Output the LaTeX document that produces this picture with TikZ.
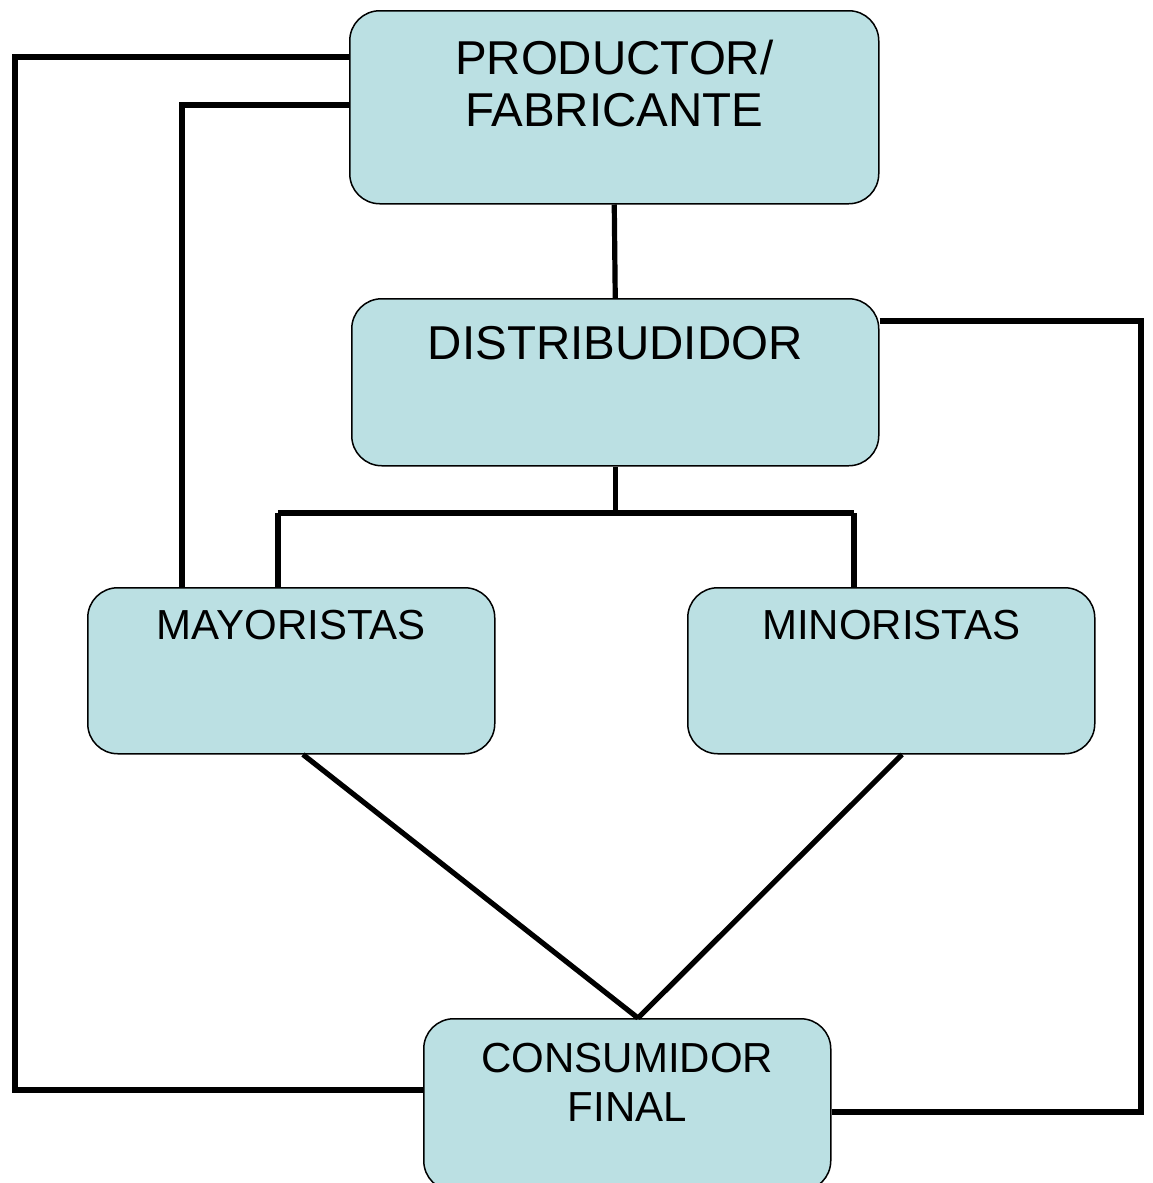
\documentclass[tikz,border=0pt]{standalone}
\usepackage{fontspec}
\setmainfont{Liberation Sans}
\usepackage{tikz}
\usetikzlibrary{positioning}
\definecolor{boxblue}{RGB}{187,224,227}

\begin{document}
\begin{tikzpicture}[x=0.5pt, y=-0.5pt,
    box/.style={draw, fill=boxblue, line width=0.75pt, rounded corners=15pt, anchor=north west, inner sep=0pt},
    boxtext/.style={anchor=north, align=center, inner sep=0pt, font=\fontsize{23.75}{26}\selectfont},
    smalltext/.style={boxtext, font=\fontsize{21}{24.5}\selectfont},
    conn/.style={line width=2.6pt}]

\useasboundingbox (0,0) rectangle (1152,1183);

% Boxes
\node[box, minimum width=264.5pt, minimum height=96.5pt,
      label={[boxtext, yshift=-15pt]north:PRODUCTOR/\\FABRICANTE}] (prod) at (349,10) {};
\node[box, minimum width=263.5pt, minimum height=83.5pt,
      label={[boxtext, yshift=-14pt]north:DISTRIBUDIDOR}] (dist) at (351,298) {};
\node[box, minimum width=203.5pt, minimum height=83pt,
      label={[smalltext, yshift=-11.5pt]north:MAYORISTAS}] (mayor) at (87,587) {};
\node[box, minimum width=203.5pt, minimum height=83pt,
      label={[smalltext, yshift=-11.5pt]north:MINORISTAS}] (minor) at (687,587) {};
\node[box, minimum width=203.5pt, minimum height=86pt,
      label={[smalltext, yshift=-12.5pt]north:CONSUMIDOR\\FINAL}] (cons) at (423,1018) {};

% Lines
\coordinate (split) at (dist.south |- 0,513);
\coordinate (apex) at (638,0 |- cons.north);

\draw[conn] (prod.south) -- (dist.north);
\draw[conn] (dist.south) -- (split);
\draw[conn] (278,513) -- (854,513);
\draw[conn] (278,513) -- (mayor.north -| 278,0);
\draw[conn] (854,513) -- (minor.north -| 854,0);

\draw[conn] (prod.west |- 0,57) -- (15,57) -- (15,1090) -- (cons.west |- 0,1090);
\draw[conn] (prod.west |- 0,105) -| (mayor.north -| 182,0);
\draw[conn] (dist.east |- 0,321) -- (1141,321) -- (1141,1112) -- (cons.east |- 0,1112);

\draw[conn] (mayor.south -| 303,0) -- (apex);
\draw[conn] (minor.south -| 902,0) -- (apex);

\end{tikzpicture}
\end{document}
